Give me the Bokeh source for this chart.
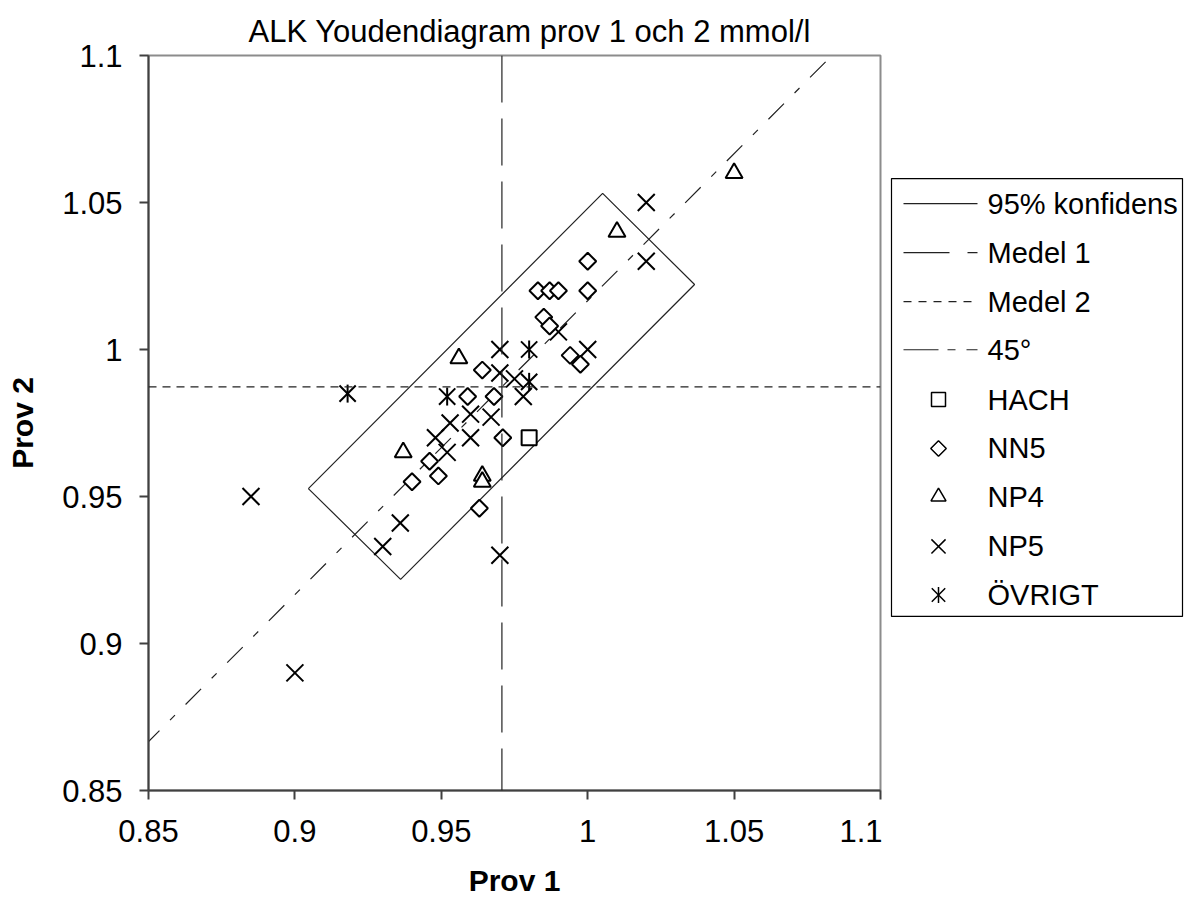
import numpy as np
from bokeh.plotting import figure
from bokeh.layouts import row
from bokeh.models import Range1d, FixedTicker, Span
from bokeh.core.properties import value
from bokeh.embed import file_html
from bokeh.resources import INLINE

# ---------------- data ----------------
title_text = "ALK Youdendiagram prov 1 och 2 mmol/l"
x_label = "Prov 1"
y_label = "Prov 2"
tick_values = [0.85, 0.9, 0.95, 1.0, 1.05, 1.1]
tick_labels = ["0.85", "0.9", "0.95", "1", "1.05", "1.1"]

medel1 = 0.9707
medel2 = 0.9873

conf_x = [0.9046, 0.9361, 1.0365, 1.0051, 0.9046]
conf_y = [0.9527, 0.9218, 1.0221, 1.0531, 0.9527]

diag_x = [0.82, 1.10]
diag_y = [v + (medel2 - medel1) for v in diag_x]

hach_x = [0.980]
hach_y = [0.970]

nn5_x = [1.000, 1.000, 0.983, 0.987, 0.990, 0.985, 0.987, 0.994, 0.9975, 0.964,
         0.971, 0.963, 0.940, 0.949, 0.946, 0.959, 0.968]
nn5_y = [1.030, 1.020, 1.020, 1.020, 1.020, 1.011, 1.008, 0.998, 0.995, 0.993,
         0.970, 0.946, 0.955, 0.957, 0.962, 0.984, 0.984]

np4_x = [1.050, 1.010, 0.956, 0.937, 0.964, 0.964]
np4_y = [1.060, 1.040, 0.997, 0.965, 0.957, 0.955]

np5_x = [1.020, 1.020, 0.990, 1.000, 0.970, 0.970, 0.960, 0.967, 0.953, 0.960,
         0.952, 0.948, 0.936, 0.930, 0.970, 0.885, 0.900, 0.975, 0.978]
np5_y = [1.050, 1.030, 1.006, 1.000, 1.000, 0.992, 0.978, 0.977, 0.975, 0.970,
         0.965, 0.970, 0.941, 0.933, 0.930, 0.950, 0.890, 0.990, 0.984]

ovr_x = [0.918, 0.952, 0.980, 0.980]
ovr_y = [0.985, 0.984, 1.000, 0.989]

legend_labels = ["95% konfidens", "Medel 1", "Medel 2", "45°", "HACH", "NN5", "NP4", "NP5", "ÖVRIGT"]

# ---------------- styles ----------------
FONT = "Liberation Sans"
FS_TICK = "31px"
FS_TITLE = "31px"
FS_LABEL = "30px"
FS_LEG = "29px"
CONF_DASH = "solid"
M1_DASH = "47 16"
M2_DASH = "8 6"
D45_DASH = "22 15 7 15"

# ---------------- main plot ----------------
p = figure(width=882, height=908, x_range=Range1d(0.85, 1.1), y_range=Range1d(0.85, 1.1),
           output_backend="svg", toolbar_location=None,
           min_border_left=148, min_border_right=2, min_border_top=55, min_border_bottom=118,
           title=title_text)
p.grid.visible = False
p.outline_line_color = "#8c8c8c"
p.outline_line_width = 2
p.background_fill_color = "white"
p.border_fill_color = "white"

p.title.text_font = FONT
p.title.text_font_size = FS_TITLE
p.title.text_font_style = "normal"
p.title.align = "left"
p.title.offset = 100
p.title.standoff = 14
p.title.text_color = "black"

for ax in (p.xaxis[0], p.yaxis[0]):
    ax.ticker = FixedTicker(ticks=tick_values)
    ax.major_label_overrides = dict(zip(tick_values, tick_labels))
    ax.minor_tick_line_color = None
    ax.major_tick_out = 9
    ax.major_tick_in = 0
    ax.axis_line_color = "#404040"
    ax.axis_line_width = 2
    ax.major_tick_line_color = "#404040"
    ax.major_tick_line_width = 2
    ax.major_label_text_font = FONT
    ax.major_label_text_font_size = FS_TICK
    ax.major_label_text_color = "black"
    ax.axis_label_text_font = FONT
    ax.axis_label_text_font_size = FS_LABEL
    ax.axis_label_text_font_style = "bold"
    ax.axis_label_text_color = "black"

p.xaxis.axis_label = x_label
p.yaxis.axis_label = y_label
p.xaxis.major_label_standoff = 20
p.yaxis.major_label_standoff = 17
p.xaxis.axis_label_standoff = 19
p.yaxis.axis_label_standoff = 20

# confidence box
p.line(conf_x, conf_y, line_color="#222222", line_width=1.2, line_dash=CONF_DASH)
# mean lines
p.add_layout(Span(location=medel1, dimension="height", line_color="#222222",
                  line_width=1.2, line_dash=M1_DASH))
p.add_layout(Span(location=medel2, dimension="width", line_color="#222222",
                  line_width=1.2, line_dash=M2_DASH))
# 45 degree line
p.line(diag_x, diag_y, line_color="#222222", line_width=1.2, line_dash=D45_DASH)

MW = 2
p.scatter(np5_x, np5_y, marker="x", size=24, line_color="black", line_width=MW)
p.scatter(nn5_x, nn5_y, marker="square", angle=np.pi / 4, size=12, line_color="black",
          fill_color="white", line_width=MW)
p.scatter(np4_x, np4_y, marker="triangle", size=17, line_color="black",
          fill_color="white", line_width=MW)
p.scatter(hach_x, hach_y, marker="square", size=15, line_color="black",
          fill_color="white", line_width=MW)
p.scatter(ovr_x, ovr_y, marker="x", size=23, line_color="black", line_width=MW)
p.scatter(ovr_x, ovr_y, marker="dash", angle=np.pi / 2, size=18, line_color="black", line_width=MW)

# ---------------- legend panel (pixel coordinates of the page) ----------------
lg = figure(width=304, height=908, x_range=Range1d(882, 1186), y_range=Range1d(908, 0),
            output_backend="svg", toolbar_location=None, min_border=0,
            x_axis_type=None, y_axis_type=None)
lg.grid.visible = False
lg.outline_line_color = None
lg.background_fill_color = "white"
lg.border_fill_color = "white"

box_l, box_r, box_t, box_b = 891, 1182, 152, 693
item_y = [183, 243.5, 304, 363.5, 425, 485.5, 545, 606.5, 666.5]
g0, g1, gm, tx = 903, 977, 938, 987

lg.quad(left=[box_l], right=[box_r], top=[box_t], bottom=[box_b],
        fill_color="white", line_color="black", line_width=1.2)
line_dashes = ["solid", "46 18", "8 7", "35 9 8 11"]
for yy, dash in zip(item_y[:4], line_dashes):
    lg.line([g0, g1], [yy, yy], line_color="#222222", line_width=1.2, line_dash=dash)

LW = 1.5
lg.scatter([gm], [item_y[4]], marker="square", size=14, line_color="black", fill_color="white", line_width=LW)
lg.scatter([gm], [item_y[5]], marker="square", angle=np.pi / 4, size=11, line_color="black", fill_color="white", line_width=LW)
lg.scatter([gm], [item_y[6]], marker="triangle", size=15, line_color="black", fill_color="white", line_width=LW)
lg.scatter([gm], [item_y[7]], marker="x", size=20, line_color="black", line_width=LW)
lg.scatter([gm], [item_y[8]], marker="x", size=19, line_color="black", line_width=LW)
lg.scatter([gm], [item_y[8]], marker="dash", angle=np.pi / 2, size=16, line_color="black", line_width=LW)

lg.text(x=[tx] * len(legend_labels), y=item_y, text=legend_labels,
        text_font=value(FONT), text_font_size=FS_LEG, text_baseline="middle",
        text_align="left", text_color="black")

layout = row(p, lg)
open("out.html", "w").write(file_html(layout, INLINE))
